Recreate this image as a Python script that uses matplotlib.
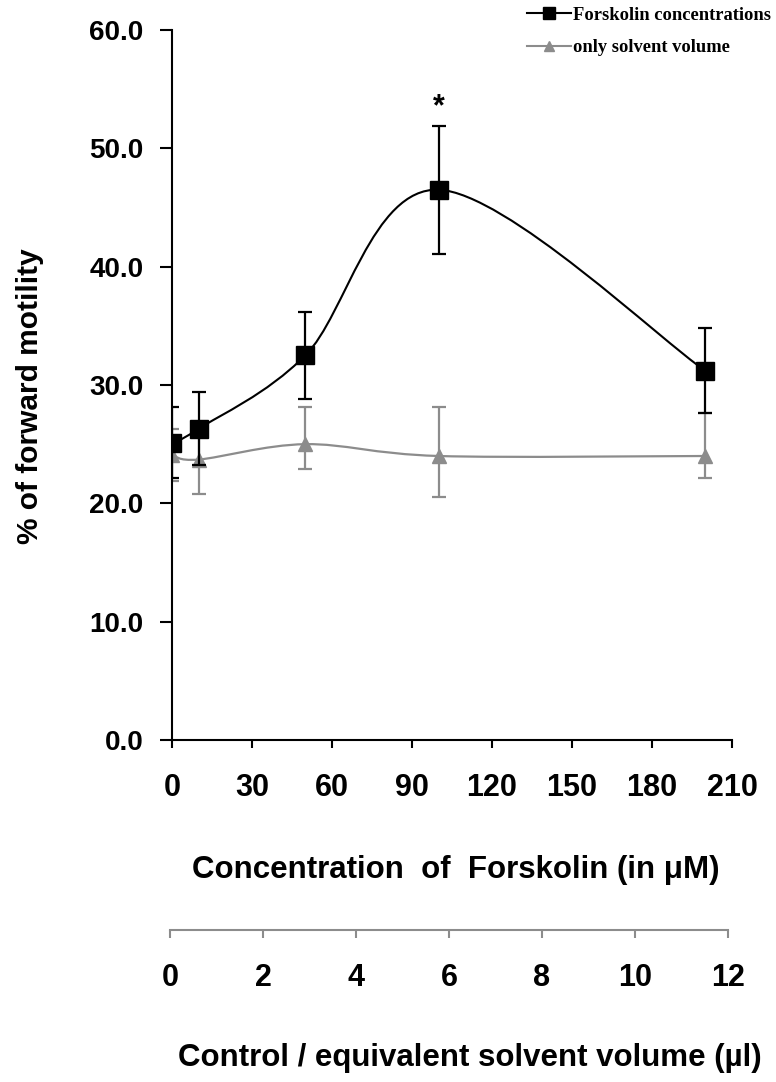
import numpy as np
import matplotlib
matplotlib.use("Agg")
import matplotlib.pyplot as plt
from matplotlib.path import Path
from matplotlib.patches import PathPatch
from matplotlib.lines import Line2D

plt.rcParams['font.family'] = ['Liberation Sans', 'DejaVu Sans']

# Data
conc_um = [0, 10, 50, 100, 200]
forskolin = [25.1, 26.3, 32.5, 46.5, 31.2]
forskolin_err = [3.0, 3.1, 3.7, 5.4, 3.6]
solvent = [24.1, 23.7, 25.0, 24.0, 24.0]
solvent_err_low = [2.2, 2.9, 2.1, 3.5, 1.9]
solvent_err_high = [2.2, 2.6, 3.1, 4.1, 3.6]
y_ticks = [0, 10, 20, 30, 40, 50, 60]
x_ticks = [0, 30, 60, 90, 120, 150, 180, 210]
vol_ticks = [0, 2, 4, 6, 8, 10, 12]
signif_x, signif_y = 100, 53.5

BLACK = '#000000'
GREY = '#8c8c8c'
W, H = 776, 1082


def smooth_path(xs, ys):
    # Excel style smoothed line: Catmull-Rom segments as cubic Bezier curves
    pts = np.column_stack([xs, ys]).astype(float)
    n = len(pts)
    verts = [pts[0]]
    codes = [Path.MOVETO]
    for i in range(n - 1):
        p0 = pts[max(i - 1, 0)]
        p1, p2 = pts[i], pts[i + 1]
        p3 = pts[min(i + 2, n - 1)]
        verts += [p1 + (p2 - p0) / 6, p2 - (p3 - p1) / 6, p2]
        codes += [Path.CURVE4] * 3
    return Path(verts, codes)


fig = plt.figure(figsize=(W / 100, H / 100), dpi=100)
ax = fig.add_axes([172 / W, 1 - 740 / H, 560 / W, 710 / H])

# solvent series (grey)
ax.errorbar(conc_um, solvent, yerr=[solvent_err_low, solvent_err_high], fmt='none',
            ecolor=GREY, elinewidth=1.6, capsize=4.7, capthick=1.6, zorder=2)
ax.add_patch(PathPatch(smooth_path(conc_um, solvent), fill=False, edgecolor=GREY, lw=1.6, zorder=2))
ax.plot(conc_um, solvent, linestyle='none', marker='^', markersize=10, color=GREY, zorder=3)

# forskolin series (black)
ax.errorbar(conc_um, forskolin, yerr=forskolin_err, fmt='none',
            ecolor=BLACK, elinewidth=1.6, capsize=4.7, capthick=1.6, zorder=4)
ax.add_patch(PathPatch(smooth_path(conc_um, forskolin), fill=False, edgecolor=BLACK, lw=1.5, zorder=4))
ax.plot(conc_um, forskolin, linestyle='none', marker='s', markersize=13, color=BLACK, zorder=5)

ax.text(signif_x, signif_y, '*', ha='center', va='center', fontsize=22, fontweight='bold')

ax.set_xlim(0, 210)
ax.set_ylim(0, 60)
ax.set_xticks(x_ticks)
ax.set_xticklabels([str(v) for v in x_ticks], fontsize=22, fontweight='bold')
ax.set_yticks(y_ticks)
ax.set_yticklabels([f'{v:.1f}' for v in y_ticks], fontsize=20, fontweight='bold')
ax.tick_params(axis='x', direction='out', length=6, width=1.5, pad=18)
ax.tick_params(axis='y', direction='out', length=8.6, width=1.5, pad=12)
for s in ['top', 'right']:
    ax.spines[s].set_visible(False)
for s in ['left', 'bottom']:
    ax.spines[s].set_linewidth(1.5)
ax.patch.set_alpha(0)

# second axis: equivalent solvent volume
ax2 = fig.add_axes([170 / W, 1 - 930 / H, 558 / W, 0.01])
ax2.set_xlim(0, 12)
ax2.set_xticks(vol_ticks)
ax2.set_xticklabels([str(v) for v in vol_ticks], fontsize=22, fontweight='bold')
ax2.set_yticks([])
for s in ['top', 'left', 'right']:
    ax2.spines[s].set_visible(False)
ax2.spines['bottom'].set_color(GREY)
ax2.spines['bottom'].set_linewidth(1.5)
ax2.tick_params(axis='x', direction='out', length=6, width=1.5, color=GREY, pad=18)
ax2.patch.set_alpha(0)

fig.text(456 / W, 1 - 870 / H, 'Concentration  of  Forskolin (in μM)',
         ha='center', va='center', fontsize=22.5, fontweight='bold')
fig.text(470 / W, 1 - 1058 / H, 'Control / equivalent solvent volume (µl)',
         ha='center', va='center', fontsize=22.5, fontweight='bold')
fig.text(30 / W, 1 - 396 / H, '% of forward motility', rotation=90,
         ha='center', va='center', fontsize=21.5, fontweight='bold')

handles = [
    Line2D([], [], color=BLACK, marker='s', markersize=8, lw=1.5),
    Line2D([], [], color=GREY, marker='^', markersize=7, lw=1.5),
]
fig.legend(handles, ['Forskolin concentrations', 'only solvent volume'],
           loc='upper right', bbox_to_anchor=(1.008, 1.004), frameon=False,
           prop={'family': 'Liberation Serif', 'weight': 'bold', 'size': 13.3},
           handlelength=2.4, handletextpad=0.1, labelspacing=0.85, borderaxespad=0.2)

fig.savefig('out.png', dpi=100)
